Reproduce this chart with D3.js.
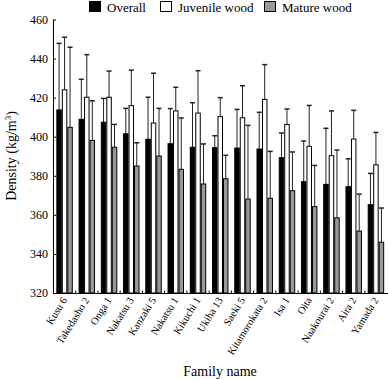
<!DOCTYPE html>
<meta charset="utf-8">
<style>
  body { margin: 0; background: #fff; }
  text { font-family: "Liberation Serif", serif; }
</style>
<svg width="388" height="379"></svg>
<script src="https://d3js.org/d3.v7.min.js"></script>
<script>

var families = ["Kusu 6", "Takedasho 2", "Onga 1", "Nakatsu 3", "Kanzaki 5", "Nakatsu 1",
  "Kikuchi 1", "Ukiha 13", "Saeki 5", "Kitamorokata 2", "Isa 1", "Oita",
  "Naakourai 2", "Aira 2", "Yamada 2"];

var seriesNames = ["Overall", "Juvenile wood", "Mature wood"];

var overall   = [413.7, 408.9, 407.4, 401.5, 398.7, 396.4, 394.6, 394.4, 394.2, 393.7, 389.3, 377.0, 375.6, 374.4, 365.2];
var overallSd = [34.1, 20.5, 12.2, 13.0, 21.5, 18.0, 22.8, 6.1, 19.8, 18.8, 12.6, 20.8, 28.7, 14.3, 16.0];

var juvenile   = [424.0, 420.2, 420.2, 415.9, 407.0, 413.2, 412.1, 410.3, 409.7, 419.1, 406.3, 395.1, 390.3, 398.8, 385.6];
var juvenileSd = [26.9, 21.8, 13.4, 18.2, 25.5, 12.1, 21.7, 9.7, 16.4, 17.8, 7.9, 20.9, 22.9, 14.7, 16.6];

var mature   = [404.8, 398.1, 394.6, 385.0, 390.1, 383.3, 375.8, 378.5, 368.1, 368.5, 372.4, 364.2, 358.5, 351.7, 346.0];
var matureSd = [41.0, 20.3, 11.7, 11.9, 24.4, 26.3, 20.5, 12.0, 37.7, 24.0, 19.8, 21.1, 34.7, 18.9, 17.5];

var yTicks = [320, 340, 360, 380, 400, 420, 440, 460];

var colors = ["#000", "#fff", "#999"];

var means = [overall, juvenile, mature],
    sds = [overallSd, juvenileSd, matureSd];

var data = families.map(function(f, i) {
  return {
    name: f,
    values: seriesNames.map(function(s, j) {
      return {series: s, idx: j, mean: means[j][i], sd: sds[j][i]};
    })
  };
});

var svg = d3.select("svg");
var serif = "Liberation Serif";

var x0 = d3.scaleBand()
    .domain(families)
    .range([53, 387.5])
    .paddingInner(0.26)
    .paddingOuter(0.15);

var x1 = d3.scaleBand()
    .domain(seriesNames)
    .range([0, x0.bandwidth()]);

var y = d3.scaleLinear()
    .domain([320, 460])
    .range([293, 19.5]);

// bars
var groups = svg.append("g").selectAll("g")
  .data(data)
  .enter().append("g")
    .attr("transform", function(d) { return "translate(" + x0(d.name) + ",0)"; });

var err = groups.selectAll(".err")
  .data(function(d) { return d.values; })
  .enter().append("g")
    .attr("class", "err")
    .attr("stroke", "#222")
    .attr("stroke-width", 1);

err.append("line")
    .attr("x1", function(d) { return x1(d.series) + x1.bandwidth() / 2; })
    .attr("x2", function(d) { return x1(d.series) + x1.bandwidth() / 2; })
    .attr("y1", function(d) { return y(d.mean); })
    .attr("y2", function(d) { return y(d.mean + d.sd); });

err.append("line")
    .attr("x1", function(d) { return x1(d.series) + x1.bandwidth() / 2 - 2.5; })
    .attr("x2", function(d) { return x1(d.series) + x1.bandwidth() / 2 + 2.5; })
    .attr("y1", function(d) { return y(d.mean + d.sd); })
    .attr("y2", function(d) { return y(d.mean + d.sd); })
    .attr("stroke-width", 1.5);

groups.selectAll("rect")
  .data(function(d) { return d.values; })
  .enter().append("rect")
    .attr("x", function(d) { return x1(d.series) + 0.5; })
    .attr("y", function(d) { return y(d.mean); })
    .attr("width", x1.bandwidth() - 1)
    .attr("height", function(d) { return y(320) - y(d.mean); })
    .attr("fill", function(d) { return colors[d.idx]; })
    .attr("stroke", "#000")
    .attr("stroke-width", 1);

// y axis
var yAxis = svg.append("g")
    .attr("transform", "translate(53,0)")
    .call(d3.axisLeft(y).tickValues(yTicks).tickSize(-3).tickSizeOuter(0).tickPadding(5));
yAxis.attr("font-family", serif);
yAxis.selectAll("text").attr("font-size", 12).attr("fill", "#000");
yAxis.selectAll("line, path").attr("stroke", "#000");

// x axis
var xAxis = svg.append("g")
    .attr("transform", "translate(0,293)")
    .call(d3.axisBottom(x0).tickSize(0).tickSizeOuter(0).tickFormat(""));
xAxis.select("path").attr("stroke", "#000");

// small inward ticks between groups
svg.append("g").selectAll("line")
  .data(families.slice(1))
  .enter().append("line")
    .attr("x1", function(d) { return x0(d) - x0.step() * x0.paddingInner() / 2; })
    .attr("x2", function(d) { return x0(d) - x0.step() * x0.paddingInner() / 2; })
    .attr("y1", 293)
    .attr("y2", 290.5)
    .attr("stroke", "#000");

// category labels
svg.append("g").selectAll("text")
  .data(families)
  .enter().append("text")
    .attr("transform", function(d) {
      return "translate(" + (x0(d) + x0.bandwidth() / 2 + 3) + ",300) rotate(-58)";
    })
    .attr("text-anchor", "end")
    .attr("font-family", serif)
    .attr("font-size", 10.5)
    .text(function(d) { return d; });

// axis titles
svg.append("text")
    .attr("x", 220)
    .attr("y", 376)
    .attr("text-anchor", "middle")
    .attr("font-family", serif)
    .attr("font-size", 14)
    .text("Family name");

var ylab = svg.append("text")
    .attr("transform", "translate(16,156) rotate(-90)")
    .attr("text-anchor", "middle")
    .attr("font-family", serif)
    .attr("font-size", 14);
ylab.append("tspan").text("Density (kg/m");
ylab.append("tspan").attr("font-size", 9).attr("dy", -5).text("3");
ylab.append("tspan").attr("dy", 5).text(")");

// legend
var legendX = [89, 160, 264];
var legend = svg.append("g").selectAll("g")
  .data(seriesNames)
  .enter().append("g")
    .attr("transform", function(d, i) { return "translate(" + legendX[i] + ",1)"; });

legend.append("rect")
    .attr("x", 0.5)
    .attr("y", 0.5)
    .attr("width", 11)
    .attr("height", 10)
    .attr("fill", function(d, i) { return colors[i]; })
    .attr("stroke", "#000");

legend.append("text")
    .attr("x", 18)
    .attr("y", 10.5)
    .attr("font-family", serif)
    .attr("font-size", 13)
    .text(function(d) { return d; });

</script>
